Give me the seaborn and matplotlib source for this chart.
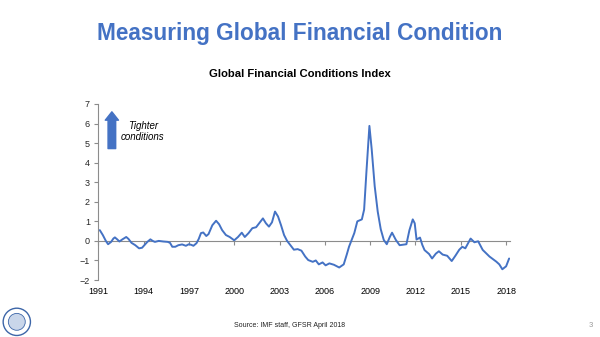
import matplotlib
matplotlib.use("Agg")
import matplotlib.pyplot as plt
import seaborn as sns
import pandas as pd
import numpy as np

years = [1991.1, 1991.3, 1991.5, 1991.65, 1991.85, 1992.0, 1992.1, 1992.25, 1992.4, 1992.6,
         1992.85, 1993.0, 1993.2, 1993.45, 1993.7, 1993.9, 1994.05, 1994.25, 1994.45, 1994.6,
         1994.75, 1995.0, 1995.3, 1995.6, 1995.75, 1995.9, 1996.1, 1996.3, 1996.55, 1996.8,
         1997.0, 1997.15, 1997.3, 1997.5, 1997.65, 1997.8, 1997.95, 1998.15, 1998.3, 1998.55,
         1998.8, 1999.0, 1999.2, 1999.45, 1999.7, 2000.0, 2000.25, 2000.5, 2000.7, 2000.95,
         2001.2, 2001.45, 2001.7, 2001.9, 2002.1, 2002.3, 2002.5, 2002.7, 2002.9, 2003.1,
         2003.3, 2003.5, 2003.7, 2003.95, 2004.2, 2004.45, 2004.7, 2004.9, 2005.2, 2005.4,
         2005.6, 2005.85, 2006.05, 2006.3, 2006.6, 2006.95, 2007.25, 2007.45, 2007.6, 2007.8,
         2007.95, 2008.15, 2008.45, 2008.6, 2008.75, 2008.95, 2009.1, 2009.3, 2009.5, 2009.7,
         2009.9, 2010.1, 2010.3, 2010.45, 2010.7, 2010.95, 2011.4, 2011.6, 2011.82, 2011.95,
         2012.07, 2012.3, 2012.45, 2012.6, 2012.9, 2013.1, 2013.35, 2013.55, 2013.8, 2014.1,
         2014.4, 2014.65, 2014.9, 2015.1, 2015.3, 2015.65, 2015.9, 2016.15, 2016.45, 2016.9,
         2017.35, 2017.55, 2017.75, 2018.0, 2018.2]
gfci = [0.55, 0.3, 0.0, -0.17, -0.05, 0.12, 0.18, 0.08, -0.03, 0.08,
        0.2, 0.1, -0.1, -0.22, -0.38, -0.35, -0.22, -0.05, 0.08, 0.0,
        -0.05, 0.0, -0.03, -0.05, -0.1, -0.3, -0.3, -0.22, -0.18, -0.25,
        -0.17, -0.2, -0.25, -0.12, 0.1, 0.4, 0.43, 0.25, 0.35, 0.8,
        1.03, 0.85, 0.55, 0.3, 0.2, 0.03, 0.2, 0.42, 0.2, 0.4,
        0.65, 0.7, 0.95, 1.15, 0.9, 0.73, 0.95, 1.5, 1.25, 0.8,
        0.3, 0.0, -0.2, -0.45, -0.42, -0.5, -0.8, -0.98, -1.07, -1.0,
        -1.2, -1.1, -1.25, -1.15, -1.22, -1.36, -1.2, -0.7, -0.3, 0.1,
        0.4, 1.0, 1.1, 1.6, 3.5, 5.88, 4.7, 2.8, 1.5, 0.6,
        0.05, -0.17, 0.2, 0.42, 0.05, -0.22, -0.17, 0.55, 1.1, 0.9,
        0.07, 0.17, -0.2, -0.47, -0.67, -0.9, -0.65, -0.53, -0.7, -0.76,
        -1.03, -0.75, -0.45, -0.3, -0.38, 0.12, -0.07, -0.02, -0.46, -0.8,
        -1.06, -1.2, -1.45, -1.3, -0.9]

xticks = [1991, 1994, 1997, 2000, 2003, 2006, 2009, 2012, 2015, 2018]
yticks = [-2, -1, 0, 1, 2, 3, 4, 5, 6, 7]

sns.set_theme(style="white")
plt.rcParams['font.family'] = ['Liberation Sans', 'DejaVu Sans']

BLUE = "#4472C4"
GREY = "#8C8C8C"

fig = plt.figure(figsize=(6.0, 3.37), dpi=100)
fig.patch.set_facecolor("white")
ax = fig.add_axes([0.1638, 0.1691, 0.686, 0.5223])

df = pd.DataFrame({"year": years, "value": gfci})
sns.lineplot(data=df, x="year", y="value", ax=ax, color=BLUE, linewidth=1.4)

ax.set_xlim(1991, 2018.25)
ax.set_ylim(-2, 7)
ax.set_xticks(xticks)
ax.set_xticklabels([str(t) for t in xticks])
ax.set_yticks(yticks)
ax.set_xlabel("")
ax.set_ylabel("")

for s in ["top", "right", "bottom"]:
    ax.spines[s].set_visible(False)
ax.spines["left"].set_color(GREY)
ax.spines["left"].set_linewidth(0.8)
ax.tick_params(axis="x", length=0, labelsize=6.5, pad=5, colors="black")
ax.tick_params(axis="y", length=3, width=0.8, color=GREY, direction="out",
               labelsize=6.5, pad=3, left=True)

# zero axis with tick marks
sec = ax.secondary_xaxis(2 / 9)
sec.set_xticks(xticks)
sec.set_xticklabels([])
sec.spines["bottom"].set_color(GREY)
sec.spines["bottom"].set_linewidth(0.8)
sec.tick_params(axis="x", length=3, width=0.8, color=GREY, direction="out")

# arrow + annotation
ax.annotate("", xy=(1991.9, 6.6), xytext=(1991.9, 4.72),
            arrowprops=dict(arrowstyle="simple,head_length=0.6,head_width=0.95,tail_width=0.55",
                            mutation_scale=10, color=BLUE, shrinkA=0, shrinkB=0))
ax.text(1993.95, 5.6, "Tighter\nconditions", ha="center", va="center",
        fontsize=7.0, style="italic", color="black", linespacing=1.2)

fig.text(0.5, 0.902, "Measuring Global Financial Condition", ha="center", va="center",
         fontsize=16.3, fontweight="bold", color=BLUE)
fig.text(0.5, 0.78, "Global Financial Conditions Index", ha="center", va="center",
         fontsize=8.1, fontweight="bold", color="black")
fig.text(0.483, 0.033, "Source: IMF staff, GFSR April 2018", ha="center", va="center",
         fontsize=5, color="#222222")
fig.text(0.985, 0.033, "3", ha="center", va="center", fontsize=5.5, color="#999999")

# small logo emblem
lax = fig.add_axes([0.003, 0.0, 0.05, 0.09])
lax.set_xlim(-1.1, 1.1)
lax.set_ylim(-1.1, 1.1)
lax.set_aspect("equal")
lax.axis("off")
lax.add_patch(plt.Circle((0, 0), 1.0, fill=False, ec="#3D66A8", lw=1.0))
lax.add_patch(plt.Circle((0, 0), 0.62, fill=True, fc="#C9D6EA", ec="#3D66A8", lw=0.6))

fig.savefig("out.png", dpi=100, facecolor="white")
